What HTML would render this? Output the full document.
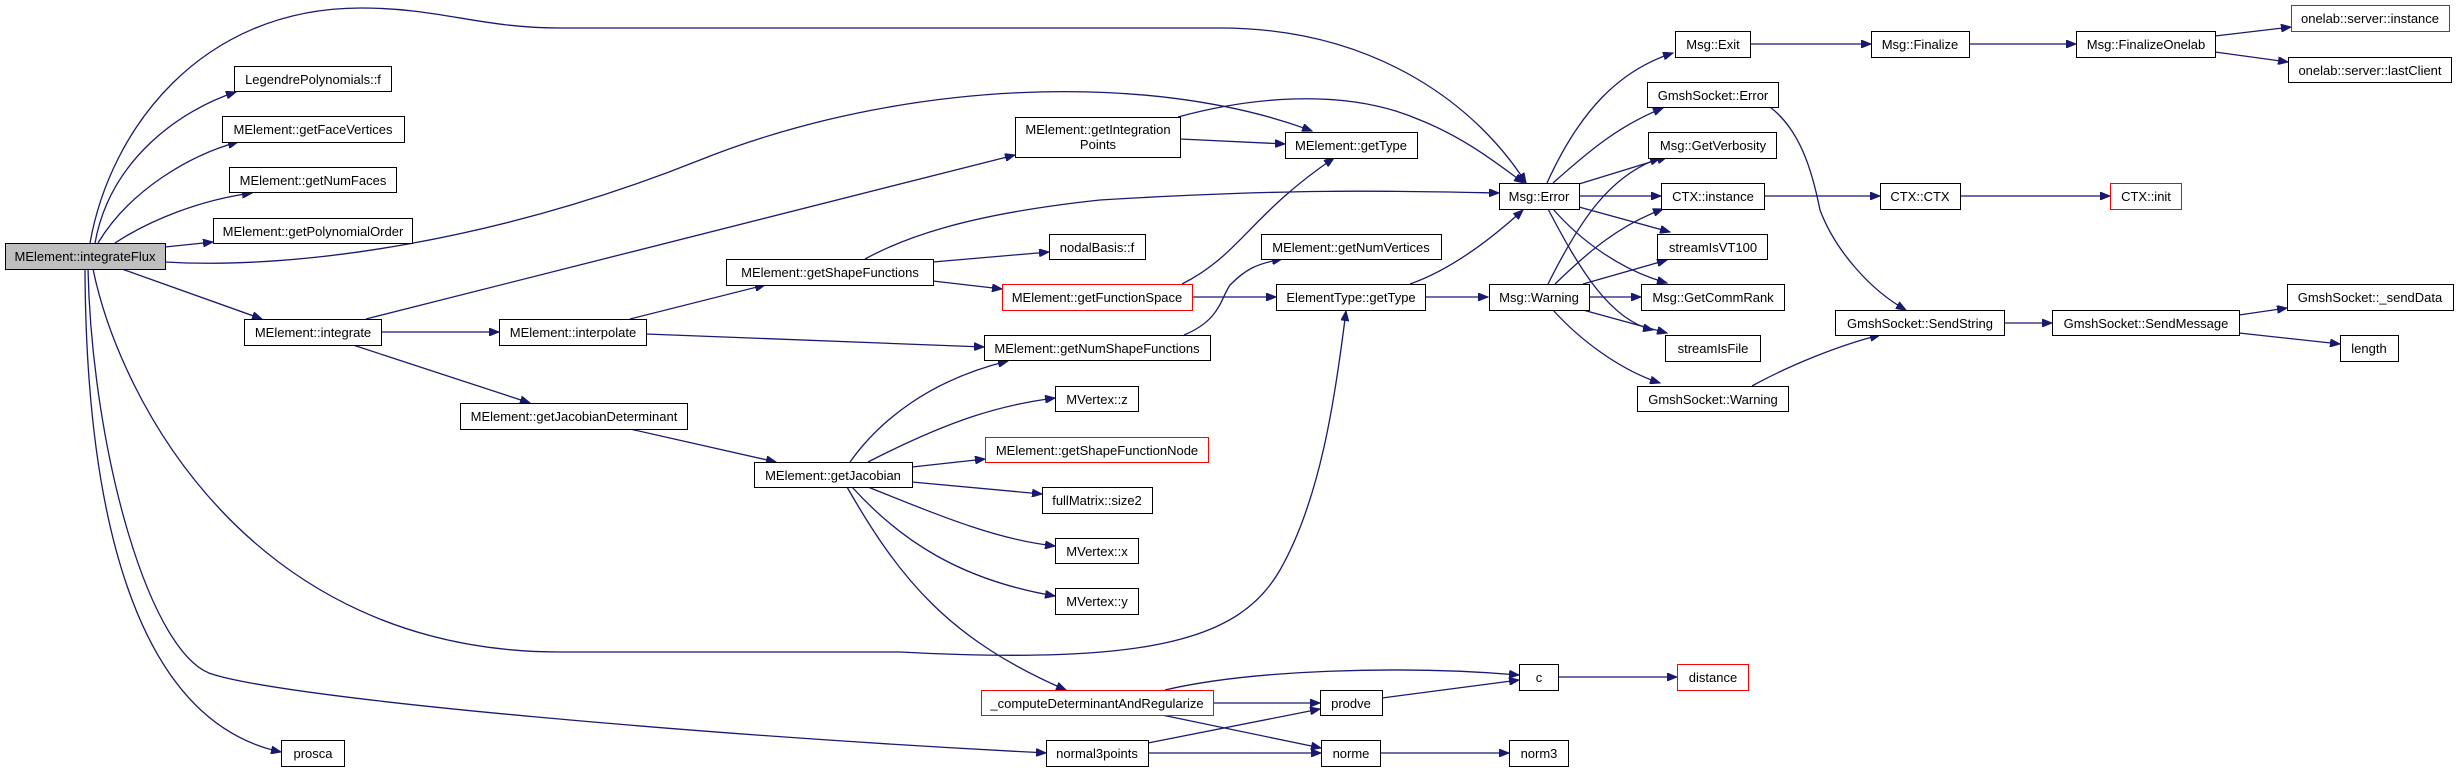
<!DOCTYPE html>
<html><head><meta charset="utf-8"><style>
html,body{margin:0;padding:0;background:#fff;}
svg{display:block;}
text{font-family:"Liberation Sans",Arial,sans-serif;font-size:13px;fill:#000;text-anchor:middle;}
.e{fill:none;stroke:#191970;stroke-width:1.3;marker-end:url(#a);}
rect{fill:#fff;stroke:#000;stroke-width:1;}
rect.r{stroke:#ff0000;}
rect.g{fill:#bfbfbf;}
</style></head><body>
<svg width="2459" height="772" viewBox="0 0 2459 772" xmlns="http://www.w3.org/2000/svg">
<defs><marker id="a" markerWidth="11" markerHeight="8" refX="10" refY="4" orient="auto" markerUnits="userSpaceOnUse"><path d="M0,0 L10,4 L0,8 z" fill="#191970" stroke="#191970"/></marker></defs>

<!-- edges -->
<path class="e" d="M90,243 C110,130 200,8 361,8 C440,8 480,28 560,28 L1220,28 C1380,28 1480,110 1526,183"/>
<path class="e" d="M95,243 C110,160 180,110 236,92"/>
<path class="e" d="M98,243 C130,190 190,155 238,142"/>
<path class="e" d="M115,243 C150,220 200,200 252,193"/>
<path class="e" d="M165,247 L213,242"/>
<path class="e" d="M165,262 C300,270 500,240 700,160 C900,80 1150,70 1312,131"/>
<path class="e" d="M122,269 L262,319"/>
<path class="e" d="M93,269 C120,400 250,652 560,652 L900,652 C1150,665 1240,640 1280,570 C1320,500 1335,400 1346,311"/>
<path class="e" d="M85,269 C86,500 130,720 281,752"/>
<path class="e" d="M88,269 C92,450 150,660 215,675 C300,700 700,735 1046,753"/>

<path class="e" d="M366,319 L1015,155"/>
<path class="e" d="M381,332 L499,332"/>
<path class="e" d="M353,345 L530,403"/>
<path class="e" d="M630,319 L765,285"/>
<path class="e" d="M646,334 L984,347"/>
<path class="e" d="M630,429 L776,462"/>

<path class="e" d="M865,259 C900,240 960,215 1100,200 C1300,188 1400,191 1499,193"/>
<path class="e" d="M933,262 L1049,252"/>
<path class="e" d="M933,281 L1002,289"/>
<path class="e" d="M1182,284 C1240,255 1250,215 1334,158"/>
<path class="e" d="M1192,297 L1276,297"/>
<path class="e" d="M1184,335 C1220,320 1220,300 1230,285 C1245,270 1255,264 1282,259"/>
<path class="e" d="M1410,284 C1450,270 1490,240 1523,210"/>
<path class="e" d="M1425,297 L1488,297"/>
<path class="e" d="M1180,139 L1285,144"/>
<path class="e" d="M1178,117 C1240,100 1340,85 1420,120 C1470,140 1505,170 1524,183"/>

<path class="e" d="M850,462 C880,420 930,380 1008,361"/>
<path class="e" d="M868,462 C950,420 1000,405 1055,398"/>
<path class="e" d="M912,467 L985,459"/>
<path class="e" d="M912,482 L1042,494"/>
<path class="e" d="M868,487 C950,520 1000,540 1055,546"/>
<path class="e" d="M852,487 C900,540 960,580 1055,596"/>
<path class="e" d="M847,487 C900,580 950,640 1066,690"/>

<path class="e" d="M1165,690 C1250,670 1400,665 1519,675"/>
<path class="e" d="M1213,703 L1320,703"/>
<path class="e" d="M1162,715 L1321,748"/>
<path class="e" d="M1148,743 L1320,709"/>
<path class="e" d="M1148,753 L1321,753"/>
<path class="e" d="M1382,698 L1519,680"/>
<path class="e" d="M1559,677 L1677,677"/>
<path class="e" d="M1380,753 L1509,753"/>

<path class="e" d="M1547,183 C1580,110 1620,70 1673,53"/>
<path class="e" d="M1553,183 C1590,150 1620,125 1663,108"/>
<path class="e" d="M1579,184 L1667,157"/>
<path class="e" d="M1579,196 L1661,196"/>
<path class="e" d="M1579,207 L1670,232"/>
<path class="e" d="M1553,209 C1580,240 1620,270 1667,283"/>
<path class="e" d="M1548,209 C1580,270 1610,320 1653,330"/>
<path class="e" d="M1548,284 C1580,220 1610,175 1660,158"/>
<path class="e" d="M1555,284 C1590,250 1620,225 1663,209"/>
<path class="e" d="M1583,284 L1667,260"/>
<path class="e" d="M1589,297 L1641,297"/>
<path class="e" d="M1583,310 L1667,333"/>
<path class="e" d="M1553,310 C1580,340 1620,370 1660,383"/>

<path class="e" d="M1750,44 L1871,44"/>
<path class="e" d="M1969,44 L2076,44"/>
<path class="e" d="M2215,36 L2291,27"/>
<path class="e" d="M2215,52 L2288,62"/>
<path class="e" d="M1764,196 L1880,196"/>
<path class="e" d="M1960,196 L2110,196"/>
<path class="e" d="M1770,107 C1800,130 1812,170 1820,210 C1835,250 1870,290 1906,310"/>
<path class="e" d="M1752,386 C1790,365 1840,345 1880,335"/>
<path class="e" d="M2004,323 L2052,323"/>
<path class="e" d="M2239,315 L2287,308"/>
<path class="e" d="M2239,333 L2340,344"/>

<!-- nodes -->
<rect class="g" x="5.5" y="243.5" width="160" height="26"/><text x="85" y="261">MElement::integrateFlux</text>
<rect x="234.5" y="66.5" width="157" height="25"/><text x="313" y="84">LegendrePolynomials::f</text>
<rect x="222.5" y="116.5" width="182" height="26"/><text x="313" y="134">MElement::getFaceVertices</text>
<rect x="229.5" y="167.5" width="167" height="25"/><text x="313" y="185">MElement::getNumFaces</text>
<rect x="213.5" y="218.5" width="199" height="25"/><text x="313" y="236">MElement::getPolynomialOrder</text>
<rect x="244.5" y="319.5" width="137" height="26"/><text x="313" y="337">MElement::integrate</text>
<rect x="499.5" y="319.5" width="147" height="26"/><text x="573" y="337">MElement::interpolate</text>
<rect x="460.5" y="403.5" width="227" height="26"/><text x="574" y="421">MElement::getJacobianDeterminant</text>
<rect x="281.5" y="740.5" width="63" height="26"/><text x="313" y="758">prosca</text>
<rect x="1015.5" y="117.5" width="165" height="40"/><text x="1098" y="134">MElement::getIntegration</text><text x="1098" y="149">Points</text>
<rect x="1285.5" y="132.5" width="132" height="26"/><text x="1351" y="150">MElement::getType</text>
<rect x="726.5" y="259.5" width="207" height="26"/><text x="830" y="277">MElement::getShapeFunctions</text>
<rect x="1049.5" y="234.5" width="96" height="25"/><text x="1097" y="252">nodalBasis::f</text>
<rect x="1261.5" y="234.5" width="180" height="25"/><text x="1351" y="252">MElement::getNumVertices</text>
<rect class="r" x="1002.5" y="284.5" width="190" height="26"/><text x="1097" y="302">MElement::getFunctionSpace</text>
<rect x="1276.5" y="284.5" width="149" height="26"/><text x="1351" y="302">ElementType::getType</text>
<rect x="984.5" y="335.5" width="226" height="25"/><text x="1097" y="353">MElement::getNumShapeFunctions</text>
<rect x="754.5" y="462.5" width="158" height="25"/><text x="833" y="480">MElement::getJacobian</text>
<rect x="1055.5" y="386.5" width="83" height="25"/><text x="1097" y="404">MVertex::z</text>
<rect class="r" x="985.5" y="437.5" width="223" height="25"/><text x="1097" y="455">MElement::getShapeFunctionNode</text>
<rect x="1042.5" y="487.5" width="110" height="26"/><text x="1097" y="505">fullMatrix::size2</text>
<rect x="1055.5" y="538.5" width="83" height="25"/><text x="1097" y="556">MVertex::x</text>
<rect x="1055.5" y="588.5" width="83" height="26"/><text x="1097" y="606">MVertex::y</text>
<rect class="r" x="981.5" y="690.5" width="232" height="25"/><text x="1097" y="708">_computeDeterminantAndRegularize</text>
<rect x="1046.5" y="740.5" width="102" height="26"/><text x="1097" y="758">normal3points</text>
<rect x="1320.5" y="690.5" width="62" height="25"/><text x="1351" y="708">prodve</text>
<rect x="1321.5" y="740.5" width="59" height="26"/><text x="1351" y="758">norme</text>
<rect x="1519.5" y="664.5" width="39" height="26"/><text x="1539" y="682">c</text>
<rect x="1509.5" y="740.5" width="59" height="26"/><text x="1539" y="758">norm3</text>
<rect class="r" x="1677.5" y="664.5" width="71" height="26"/><text x="1713" y="682">distance</text>
<rect x="1499.5" y="183.5" width="80" height="26"/><text x="1539" y="201">Msg::Error</text>
<rect x="1489.5" y="284.5" width="100" height="26"/><text x="1539" y="302">Msg::Warning</text>
<rect x="1675.5" y="31.5" width="75" height="26"/><text x="1713" y="49">Msg::Exit</text>
<rect x="1647.5" y="82.5" width="131" height="25"/><text x="1713" y="100">GmshSocket::Error</text>
<rect x="1648.5" y="132.5" width="128" height="26"/><text x="1713" y="150">Msg::GetVerbosity</text>
<rect x="1661.5" y="183.5" width="103" height="26"/><text x="1713" y="201">CTX::instance</text>
<rect x="1657.5" y="234.5" width="110" height="25"/><text x="1713" y="252">streamIsVT100</text>
<rect x="1641.5" y="284.5" width="143" height="26"/><text x="1713" y="302">Msg::GetCommRank</text>
<rect x="1665.5" y="335.5" width="95" height="26"/><text x="1713" y="353">streamIsFile</text>
<rect x="1637.5" y="386.5" width="151" height="25"/><text x="1713" y="404">GmshSocket::Warning</text>
<rect x="1871.5" y="31.5" width="98" height="26"/><text x="1920" y="49">Msg::Finalize</text>
<rect x="2076.5" y="31.5" width="139" height="26"/><text x="2146" y="49">Msg::FinalizeOnelab</text>
<rect class="r" x="2291.5" y="5.5" width="158" height="26"/><text x="2370" y="23">onelab::server::instance</text>
<rect x="2288.5" y="57.5" width="163" height="25"/><text x="2370" y="75">onelab::server::lastClient</text>
<rect x="1880.5" y="183.5" width="80" height="26"/><text x="1920" y="201">CTX::CTX</text>
<rect class="r" x="2110.5" y="183.5" width="71" height="26"/><text x="2146" y="201">CTX::init</text>
<rect x="1835.5" y="310.5" width="169" height="25"/><text x="1920" y="328">GmshSocket::SendString</text>
<rect x="2052.5" y="310.5" width="187" height="25"/><text x="2146" y="328">GmshSocket::SendMessage</text>
<rect x="2287.5" y="284.5" width="166" height="26"/><text x="2370" y="302">GmshSocket::_sendData</text>
<rect x="2340.5" y="335.5" width="58" height="26"/><text x="2369" y="353">length</text>
</svg>
</body></html>
